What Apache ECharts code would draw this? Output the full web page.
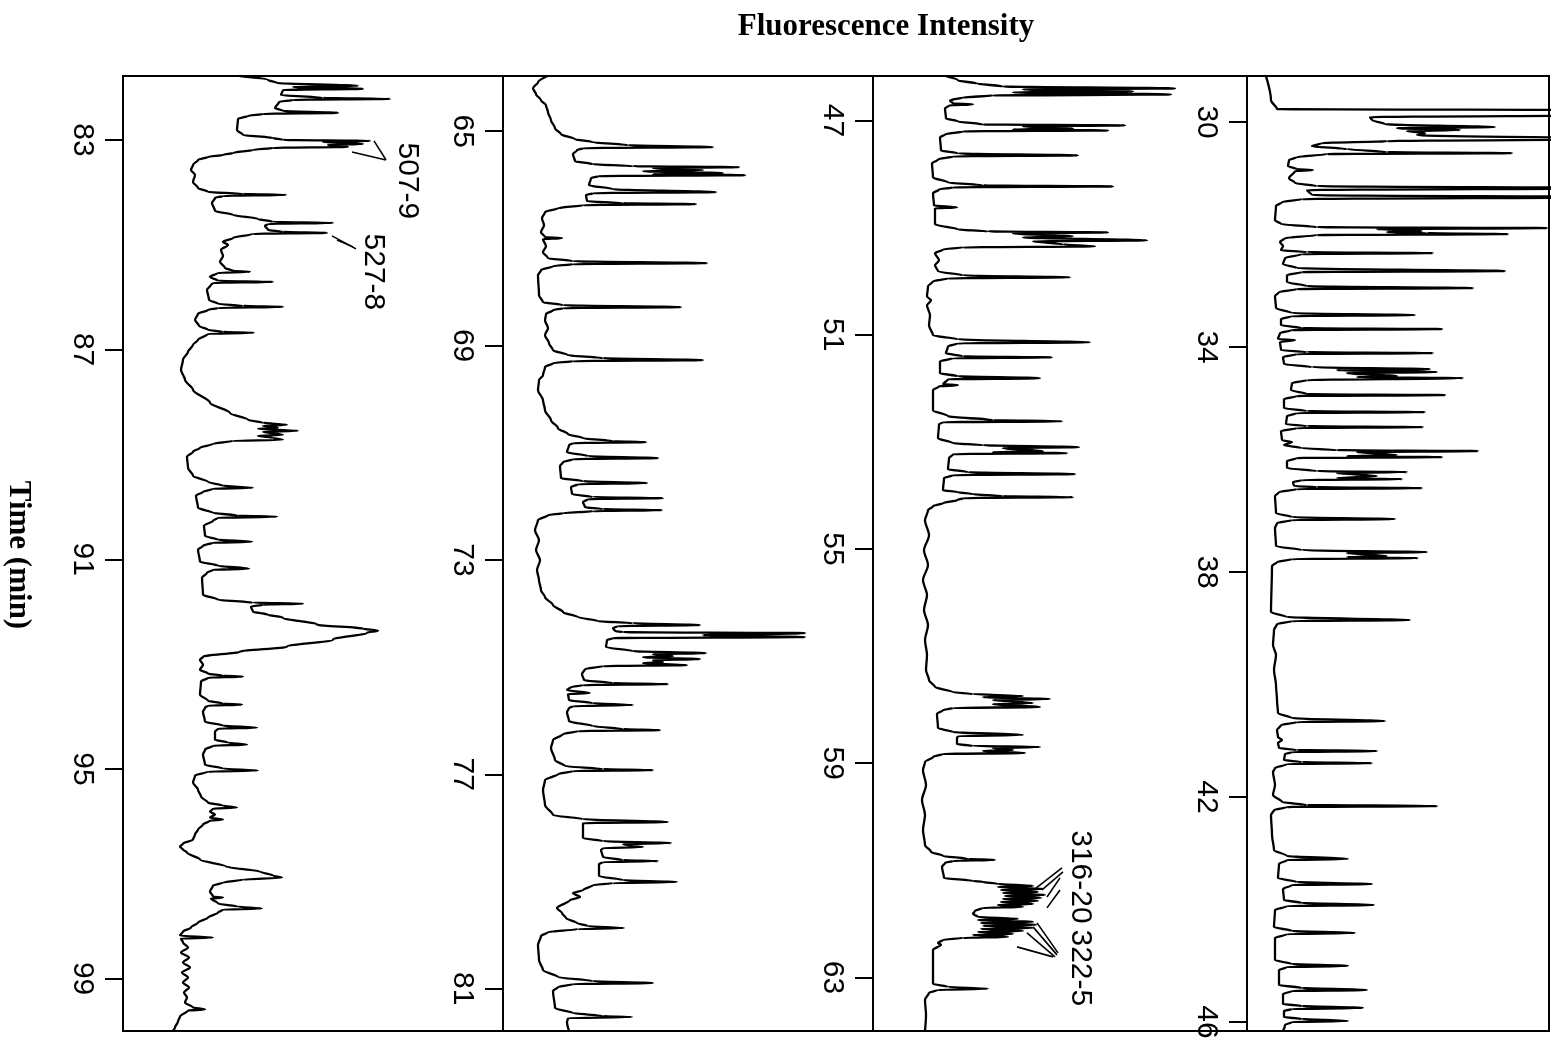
<!DOCTYPE html>
<html><head><meta charset="utf-8">
<script src="https://cdn.jsdelivr.net/npm/echarts@6/dist/echarts.min.js"></script>
<style>html,body{margin:0;padding:0;background:#fff}#c{width:1561px;height:1041px}</style>
</head><body><div id="c"></div>
<script>
// Time ranges (min) of the four panels, left to right
const panelTime = [[81.78,100],[63.97,81.79],[46.17,64],[29.18,46.16]];
// Tick labels (min)
const panelTicks = [[83,87,91,95,99],[65,69,73,77,81],[47,51,55,59,63],[30,34,38,42,46]];
// Intensity axis maximum (arbitrary fluorescence units)
const panelIntensityMax = [380,370,374,302];

// Traces: [time (min), fluorescence intensity]
const trace1 = [[81.78,117],[81.856,145],[81.913,154],[81.97,235],[81.989,170],[82.027,240],[82.047,160],[82.142,158],[82.199,200],[82.218,267],[82.237,170],
[82.275,156],[82.39,152],[82.447,160],[82.485,215],[82.504,140],
[82.542,125],[82.6,115],[82.809,114],[82.905,120],[82.962,150],
[83.0,160],[83.019,247],[83.038,200],[83.076,240],[83.095,205],[83.133,225],[83.153,150],
[83.191,130],[83.248,110],[83.286,100],[83.324,85],
[83.381,75],[83.477,70],[83.572,68],[83.667,72],[83.801,70],[83.915,75],[83.992,85],[84.03,120],[84.049,163],[84.068,100],
[84.106,92],[84.201,89],[84.354,92],[84.43,110],[84.506,135],[84.564,150],[84.583,210],[84.602,145],
[84.64,142],[84.716,145],[84.754,160],[84.773,204],[84.792,130],
[84.869,110],[84.945,100],[85.002,105],[85.098,98],[85.212,100],[85.326,97],[85.441,102],[85.498,110],[85.517,127],[85.536,95],
[85.612,87],[85.689,95],[85.708,150],[85.727,90],
[85.765,88],[85.86,84],[86.051,86],[86.127,95],[86.165,120],[86.185,160],[86.204,95],
[86.242,85],[86.318,75],[86.432,72],[86.547,76],[86.623,85],[86.661,100],[86.68,131],[86.699,85],
[86.814,75],[86.909,70],[87.043,65],[87.195,60],[87.386,58],[87.577,62],[87.767,70],[88.015,87],[88.208,107],[88.339,125],[88.396,140],
[88.435,164],[88.454,140],[88.492,155],[88.511,135],[88.549,175],[88.568,140],[88.625,160],[88.644,135],[88.682,150],[88.721,160],[88.74,110],
[88.797,90],[88.873,77],
[88.95,70],[89.045,64],[89.255,65],[89.407,70],[89.522,85],[89.598,100],[89.636,130],[89.655,90],
[89.712,80],[89.789,73],[90.017,75],[90.113,90],[90.17,115],[90.189,154],[90.208,95],
[90.265,90],[90.361,81],[90.552,82],[90.628,95],[90.666,129],[90.685,90],
[90.742,80],[90.818,75],[91.047,77],[91.123,95],[91.181,126],[91.2,90],
[91.257,84],[91.352,79],[91.676,80],[91.772,95],[91.829,130],[91.848,180],[91.867,140],
[91.905,128],[92.001,130],[92.058,145],[92.115,160],[92.248,194],[92.325,240],[92.363,255],[92.401,244],[92.534,210],[92.668,164],[92.763,117],[92.859,80],
[92.916,77],[93.011,80],[93.107,77],[93.183,85],[93.221,100],[93.24,120],[93.259,85],
[93.336,78],[93.584,77],[93.698,85],[93.755,100],[93.774,119],[93.793,85],
[93.831,82],[93.908,80],[94.098,82],[94.175,100],[94.213,134],[94.232,95],
[94.289,92],[94.441,92],[94.498,105],[94.537,124],[94.556,90],
[94.632,82],[94.727,80],[94.918,82],[94.994,100],[95.032,135],[95.051,85],
[95.128,72],[95.261,70],[95.395,75],[95.528,78],[95.643,85],[95.7,100],[95.738,114],[95.757,90],
[95.814,87],[95.871,92],[95.929,87],[95.967,100],[95.986,87],[96.062,80],
[96.157,75],[96.253,72],[96.348,70],[96.425,60],[96.482,57],
[96.539,60],[96.596,64],[96.73,77],[96.863,103],[96.959,137],[97.035,150],[97.073,159],[97.111,120],
[97.168,100],[97.226,90],[97.34,87],[97.436,90],[97.455,100],[97.474,88],[97.569,95],[97.626,115],[97.664,139],[97.683,100],
[97.741,95],[97.836,85],[97.931,75],[98.026,68],[98.103,60],[98.179,57],[98.217,90],[98.236,58],
[98.312,60],[98.408,65],[98.503,58],[98.598,66],[98.694,60],[98.789,67],[98.885,59],[98.98,65],[99.075,60],[99.171,66],[99.266,61],[99.361,64],[99.457,62],[99.552,70],[99.59,82],[99.609,65],
[99.724,57],[99.819,55],[99.933,52],[99.99,50]];

const trace2 = [[63.974,44],[64.086,35],[64.198,30],[64.31,33],[64.422,38],[64.515,43],[64.646,45],[64.795,48],[64.944,52],[65.056,58],[65.149,72],[65.205,90],[65.261,125],[65.299,210],[65.317,80],
[65.354,74],[65.429,70],[65.56,72],[65.616,90],[65.653,130],
[65.672,236],[65.69,150],[65.728,200],[65.746,140],[65.784,220],[65.802,150],[65.821,242],[65.84,95],
[65.877,88],[66.007,86],[66.082,110],[66.138,213],[66.157,90],
[66.194,83],[66.306,84],[66.343,120],[66.362,193],[66.381,80],
[66.437,55],[66.511,42],[66.623,39],[66.754,41],[66.884,38],[66.978,42],[66.996,59],[67.015,40],[67.146,43],[67.257,40],[67.369,45],[67.425,70],[67.463,204],[67.481,70],
[67.519,50],[67.593,38],[67.687,35],[68.06,36],[68.19,40],[68.246,60],[68.284,178],[68.302,60],
[68.34,50],[68.414,43],[68.526,42],[68.675,45],[68.806,42],[68.955,46],[69.086,50],[69.179,65],[69.235,100],[69.272,200],[69.291,70],
[69.328,50],[69.403,42],[69.552,40],[69.646,36],[69.832,35],[70.019,40],[70.205,42],[70.392,48],[70.541,55],[70.653,65],[70.728,80],[70.784,110],[70.802,143],[70.821,70],
[70.858,66],[70.989,64],[71.063,85],[71.101,155],[71.119,70],
[71.175,60],[71.25,57],[71.474,58],[71.53,80],[71.567,144],[71.586,75],
[71.642,68],[71.772,69],[71.828,90],[71.847,160],[71.866,85],
[71.922,80],[72.015,82],[72.052,100],[72.071,159],[72.09,90],
[72.127,60],[72.164,45],[72.257,35],[72.444,32],[72.631,36],[72.817,33],[73.004,37],[73.19,34],[73.377,36],[73.564,38],[73.694,42],[73.843,50],[73.974,60],[74.067,75],[74.142,95],[74.179,130],[74.216,197],[74.235,115],
[74.272,110],[74.328,112],[74.347,120],[74.366,302],[74.403,200],[74.44,302],[74.459,110],
[74.496,104],[74.627,103],[74.702,130],
[74.739,203],[74.758,150],[74.795,170],[74.814,140],[74.851,197],[74.87,150],[74.907,160],[74.926,140],[74.963,184],[74.981,100],
[75.037,82],[75.131,79],[75.243,81],[75.299,110],[75.317,165],[75.336,80],
[75.373,68],[75.429,64],[75.485,87],[75.504,65],[75.616,66],[75.672,90],[75.709,130],[75.728,70],
[75.765,66],[75.84,64],[76.008,66],[76.101,90],[76.157,120],[76.176,157],[76.194,75],
[76.25,60],[76.362,50],[76.511,48],[76.735,52],[76.847,62],[76.903,100],[76.922,150],[76.94,70],
[76.996,55],[77.108,42],[77.295,40],[77.575,42],[77.761,50],[77.836,80],[77.892,165],[77.911,80],
[77.967,80],[78.19,80],[78.246,100],[78.284,168],[78.302,120],[78.34,130],[78.358,140],[78.377,100],
[78.414,98],[78.545,100],[78.601,120],[78.62,155],[78.638,100],
[78.675,96],[78.899,96],[78.974,120],[79.011,174],[79.03,110],
[79.067,90],[79.161,80],[79.217,70],[79.291,77],[79.347,67],[79.496,54],[79.59,59],[79.683,63],[79.776,74],[79.832,85],[79.87,121],[79.888,75],
[79.944,45],[80.019,38],[80.187,35],[80.467,36],[80.653,40],[80.784,55],[80.858,90],[80.896,150],[80.914,70],
[80.97,55],[81.045,50],[81.362,52],[81.455,70],[81.511,100],[81.53,129],[81.549,65],
[81.623,64],[81.791,66]];

const trace3 = [[46.179,74],[46.254,85],[46.31,104],[46.366,130],[46.403,302],[46.422,150],[46.459,260],[46.478,140],[46.515,298],[46.534,120],[46.571,90],[46.627,77],[46.683,80],[46.701,100],[46.72,76],[46.776,72],[46.963,73],[47.019,85],[47.075,110],
[47.093,252],[47.112,150],[47.149,200],[47.168,140],[47.187,235],[47.205,90],
[47.261,72],[47.317,67],[47.56,68],[47.616,85],[47.653,205],[47.672,80],
[47.728,65],[47.802,59],[48.063,60],[48.157,75],[48.213,110],[48.231,240],[48.25,80],
[48.287,66],[48.362,60],[48.586,61],[48.623,84],[48.642,62],[48.94,62],[49.034,85],[49.071,115],
[49.09,235],[49.108,140],[49.164,200],[49.183,150],[49.239,274],[49.257,160],[49.313,190],[49.351,222],[49.369,90],
[49.407,70],[49.481,62],[49.612,66],[49.705,62],[49.817,65],[49.892,90],[49.929,197],[49.948,75],
[50.004,60],[50.097,55],[50.284,54],[50.358,58],[50.452,54],[50.638,57],[50.825,56],[51.011,60],[51.086,85],[51.142,217],[51.161,85],
[51.216,75],[51.347,73],[51.403,90],[51.422,179],[51.44,80],
[51.496,67],[51.72,67],[51.776,85],[51.813,167],[51.832,75],
[51.925,70],[51.944,85],[51.963,66],
[52.037,60],[52.41,60],[52.522,75],[52.597,120],[52.616,189],[52.634,70],
[52.672,66],[52.933,65],[53.026,80],[53.063,110],
[53.101,206],[53.119,130],[53.175,170],[53.194,120],[53.213,194],[53.231,80],
[53.306,76],[53.511,75],[53.567,95],[53.604,202],[53.623,80],
[53.679,71],[53.903,70],[53.94,85],[53.978,100],[54.015,130],[54.034,200],[54.052,90],
[54.09,84],[54.146,70],[54.202,60],
[54.276,55],[54.463,52],[54.743,56],[55.022,51],[55.302,55],[55.582,50],[55.862,54],[56.142,51],[56.422,55],[56.701,52],[56.981,54],[57.261,53],[57.448,56],
[57.578,62],[57.672,80],[57.709,100],
[57.746,150],[57.765,110],[57.802,177],[57.821,120],[57.877,160],[57.896,120],[57.951,167],[57.97,80],
[58.007,70],[58.082,64],[58.343,65],[58.418,80],[58.474,150],[58.493,85],
[58.53,84],[58.642,84],[58.679,100],
[58.698,167],[58.716,120],[58.754,140],[58.772,110],[58.81,152],[58.828,70],
[58.884,60],[58.978,52],
[59.127,50],[59.407,53],[59.687,49],[59.966,52],[60.246,50],[60.526,52],[60.657,58],
[60.731,70],[60.787,95],[60.806,122],[60.825,80],
[60.862,72],[60.937,69],[61.142,71],[61.198,100],
[61.216,110],[61.254,125],[61.291,160],[61.31,125],[61.347,170],[61.366,128],[61.403,165],[61.422,130],[61.459,172],[61.478,132],[61.515,168],[61.534,130],[61.571,165],[61.59,128],[61.627,160],[61.646,125],[61.683,150],[61.701,110],
[61.757,102],[61.813,100],[61.87,105],[61.907,145],[61.926,105],[61.963,160],[61.982,108],[62.019,163],[62.037,110],[62.075,160],[62.093,108],[62.131,150],[62.149,105],[62.187,140],[62.205,100],[62.243,135],[62.261,90],[62.299,70],[62.355,65],
[62.392,68],[62.485,60],[63.12,60],[63.176,75],[63.213,115],[63.232,65],
[63.288,56],[63.418,52],[63.698,53],[63.997,52]];

const trace4 = [[29.182,19],[29.609,24],[29.769,30],[29.787,400],[29.876,400],[29.911,123],[29.964,125],[30.036,138],[30.089,248],[30.107,150],[30.142,213],[30.16,160],[30.196,178],[30.231,170],[30.302,400],[30.338,140],[30.373,75],[30.427,65],[30.48,100],[30.533,140],[30.551,265],[30.569,80],
[30.622,50],[30.676,42],[30.782,41],[30.836,50],[30.853,66],[30.871,48],[30.996,42],[31.084,48],[31.138,70],[31.173,400],[31.209,60],[31.298,65],[31.333,400],[31.369,55],
[31.422,35],[31.493,29],[31.742,28],[31.813,34],[31.867,70],[31.884,300],[31.902,130],[31.938,175],[31.956,140],[31.973,180],[31.991,261],[32.009,70],
[32.062,38],[32.133,33],[32.204,36],[32.276,34],[32.311,60],[32.329,186],[32.347,55],
[32.418,38],[32.524,36],[32.596,50],[32.649,258],[32.667,55],
[32.72,40],[32.844,40],[32.916,60],[32.951,226],[32.969,50],
[33.022,32],[33.093,28],[33.307,29],[33.396,45],[33.431,168],[33.449,45],
[33.502,34],[33.609,34],[33.662,55],[33.68,195],[33.698,45],
[33.751,33],[33.858,31],[33.876,48],[33.911,33],[34.053,34],[34.089,60],[34.107,186],[34.124,50],
[34.178,36],[34.302,37],[34.356,65],[34.391,183],[34.409,90],[34.444,190],[34.462,100],[34.516,150],[34.533,110],[34.551,216],[34.587,60],
[34.64,45],[34.764,44],[34.836,60],[34.853,198],[34.871,50],
[34.924,37],[35.084,37],[35.138,60],[35.156,178],[35.173,50],
[35.227,40],[35.369,39],[35.404,60],[35.422,176],[35.44,50],
[35.493,34],[35.653,35],[35.689,45],[35.742,37],[35.796,55],[35.831,90],[35.849,231],[35.867,110],[35.92,150],[35.938,100],[35.956,195],[35.973,50],
[36.027,40],[36.151,40],[36.204,70],[36.222,160],[36.24,90],[36.293,130],[36.329,90],[36.347,155],[36.364,55],
[36.4,46],[36.471,47],[36.489,70],[36.507,175],[36.524,50],
[36.578,32],[36.649,28],[36.951,29],[37.022,45],[37.058,148],[37.076,45],
[37.129,30],[37.218,28],[37.538,29],[37.609,55],[37.644,180],[37.662,100],[37.716,140],[37.733,100],[37.751,171],[37.769,45],
[37.822,30],[37.893,25],[38.711,24],[38.8,40],[38.853,163],[38.871,45],
[38.924,30],[39.031,27],[39.298,26],[39.476,29],[39.742,27],[40.009,29],[40.276,30],[40.507,31],[40.596,45],[40.649,138],[40.667,50],
[40.72,34],[40.809,30],[40.933,31],[40.987,35],[41.04,31],[41.129,32],[41.164,50],[41.182,130],[41.2,45],
[41.236,38],[41.342,37],[41.378,55],[41.396,125],[41.413,40],
[41.484,28],[41.556,26],[41.787,28],[41.964,26],[42.089,35],[42.142,60],[42.16,190],[42.178,40],
[42.231,27],[42.32,24],[42.676,25],[42.942,27],[43.049,40],[43.102,101],[43.12,40],
[43.191,32],[43.44,31],[43.511,50],[43.547,125],[43.564,45],
[43.636,36],[43.831,37],[43.884,55],[43.92,127],[43.938,40],
[44.009,28],[44.311,27],[44.382,45],[44.418,108],[44.436,40],
[44.507,28],[44.898,28],[44.969,45],[45.004,101],[45.022,40],
[45.076,32],[45.342,32],[45.396,55],[45.431,120],[45.449,45],
[45.502,36],[45.68,36],[45.716,55],[45.751,116],[45.769,45],
[45.804,37],[45.911,37],[45.947,55],[45.982,101],[46.0,45],[46.053,38],[46.16,36]];

// Peak annotations: label text, panel index, anchor [intensity, time]
const annotTexts = ['507-9','527-8','316-20','322-5'];
const annotPanels = [0,0,2,2];
const annotAnchors = [[284,83.782],[250,85.517],[207,61.123],[207,62.821]];
// Pointer lines: [intensity, time] -> [intensity, time]
const pointers1 = [[[263,83.381],[251,83.019]],[[263,83.381],[229,83.229]],[[233,85.079],[209,84.831]],[[230,85.04],[214,84.907]]];
const pointers3 = [[[189,60.955],[162,61.347]],[[190,61.03],[169,61.366]],[[187,61.142],[174,61.497]],[[187,61.366],[174,61.701]],
[[164,61.982],[185,62.541]],[[160,62.056],[184,62.579]],[[154,62.168],[182,62.616]],[[144,62.429],[180,62.616]]];

const traces = [trace1, trace2, trace3, trace4];
const pointers = [pointers1, [], pointers3, []];
const gridBoxes = [{left:123,width:380},{left:503,width:370},{left:873,width:374},{left:1247,width:302}];

const sans = '"Liberation Sans", Arial, Helvetica, sans-serif';
const serif = '"Liberation Serif", "Times New Roman", Times, serif';

const option = {
  animation:false,
  backgroundColor:'#fff',
  grid: gridBoxes.map(g=>({left:g.left, width:g.width, top:76, height:955, show:true, borderColor:'#000', borderWidth:2, backgroundColor:'transparent', containLabel:false, outerBoundsMode:'none'})),
  xAxis: gridBoxes.map((g,i)=>({gridIndex:i, type:'value', min:0, max:panelIntensityMax[i], show:false})),
  yAxis: gridBoxes.map((g,i)=>({gridIndex:i, type:'value', inverse:true, position:'left', min:panelTime[i][0], max:panelTime[i][1],
    axisLine:{show:true, onZero:false, lineStyle:{color:'#000', width:2}},
    axisTick:{show:true, inside:false, length:18, customValues:panelTicks[i], lineStyle:{color:'#000', width:2}},
    axisLabel:{show:true, customValues:panelTicks[i], rotate:-90, margin:26, fontSize:30, color:'#000', fontFamily:sans},
    splitLine:{show:false}})),
  series: traces.map((tr,i)=>({type:'line', xAxisIndex:i, yAxisIndex:i, data:tr.map(p=>[p[1],p[0]]),
    symbol:'none', showSymbol:false, clip:true, smooth:0.3, smoothMonotone:'y',
    lineStyle:{color:'#000', width:2.3, join:'round', cap:'round'}, silent:true,
    markLine: pointers[i].length ? {symbol:['none','none'], silent:true, animation:false, label:{show:false},
      lineStyle:{color:'#000', width:1.6, type:'solid'},
      data: pointers[i].map(l=>[{coord:l[0]},{coord:l[1]}])} : undefined
  }))
};

const chart = echarts.init(document.getElementById('c'), null, {renderer:'canvas'});
chart.setOption(option);

const graphics = [
  {type:'text', x:886, y:27, style:{text:'Fluorescence Intensity', font:'bold 31px '+serif, textAlign:'center', textVerticalAlign:'middle', align:'center', verticalAlign:'middle', fill:'#000'}},
  {type:'text', x:18, y:555, rotation:-Math.PI/2, style:{text:'Time (min)', font:'bold 31px '+serif, textAlign:'center', textVerticalAlign:'middle', align:'center', verticalAlign:'middle', fill:'#000'}}
];
annotTexts.forEach((t,k)=>{
  const p = chart.convertToPixel({gridIndex:annotPanels[k]}, annotAnchors[k]);
  graphics.push({type:'text', x:p[0], y:p[1], rotation:-Math.PI/2, style:{text:t, font:'30px '+sans, textAlign:'center', textVerticalAlign:'middle', align:'center', verticalAlign:'middle', fill:'#000'}});
});
chart.setOption({graphic:graphics});
</script>
</body></html>
